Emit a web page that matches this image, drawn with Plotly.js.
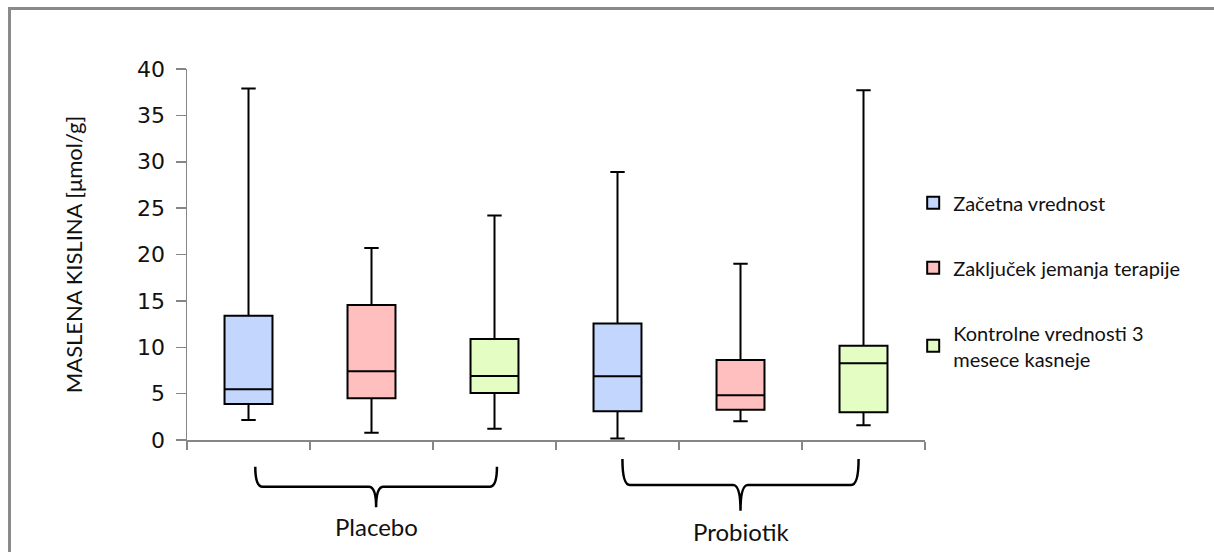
<!DOCTYPE html>
<html>
<head>
<meta charset="utf-8">
<script src="https://cdn.plot.ly/plotly-3.0.1.min.js"></script>
<style>
  html, body { margin: 0; padding: 0; background: #fff; }
  #wrap { position: relative; width: 1214px; height: 552px; overflow: hidden; }
  #chart { width: 1214px; height: 552px; }
  #frame {
    position: absolute; left: 8px; top: 7px; width: 1300px; height: 700px;
    border-left: 3px solid #8a8a8a; border-top: 3px solid #8a8a8a;
    pointer-events: none;
  }
</style>
</head>
<body>
<div id="wrap">
  <div id="chart"></div>
  <div id="frame"></div>
</div>
<script>
// Groups along the x axis and the three measurement points inside each group
const groups = ['Placebo', 'Probiotik'];
const seriesNames = [
  'Začetna vrednost',
  'Zaključek jemanja terapije',
  'Kontrolne vrednosti 3<br>mesece kasneje'
];
const seriesColors = ['#c2d6fe', '#ffbfbf', '#e3fdc3'];

// Box statistics per series, in group order [Placebo, Probiotik]
const startMin    = [2.16, 0.15];
const startQ1     = [3.88, 3.10];
const startMedian = [5.47, 6.87];
const startQ3     = [13.40, 12.55];
const startMax    = [37.9, 28.9];

const endMin    = [0.79, 2.01];
const endQ1     = [4.50, 3.27];
const endMedian = [7.41, 4.82];
const endQ3     = [14.56, 8.63];
const endMax    = [20.7, 19.0];

const ctrlMin    = [1.20, 1.58];
const ctrlQ1     = [5.07, 2.99];
const ctrlMedian = [6.90, 8.27];
const ctrlQ3     = [10.90, 10.17];
const ctrlMax    = [24.2, 37.7];

const yTicks = [0, 5, 10, 15, 20, 25, 30, 35, 40];

const stats = [
  [startMin, startQ1, startMedian, startQ3, startMax],
  [endMin, endQ1, endMedian, endQ3, endMax],
  [ctrlMin, ctrlQ1, ctrlMedian, ctrlQ3, ctrlMax]
];

const perGroup = seriesNames.length;
const slotCount = groups.length * perGroup;

const traces = seriesNames.map((name, s) => {
  const [mn, q1, med, q3, mx] = stats[s];
  return {
    type: 'box',
    orientation: 'v',
    name: name,
    legendgroup: 'g' + s,
    x: groups.map((g, gi) => gi * perGroup + s),
    lowerfence: mn,
    q1: q1,
    median: med,
    q3: q3,
    upperfence: mx,
    width: 0.39,
    whiskerwidth: 0.3,
    fillcolor: seriesColors[s],
    line: { color: '#000000', width: 2 },
    boxpoints: false,
    hoverinfo: 'y'
  };
});

// Curly braces under each group, spanning its three slots
function bracePath(x0, x1, yTop, yMid, yTip) {
  const xc = (x0 + x1) / 2;
  const d = 0.06;
  return 'M' + x0 + ',' + yTop +
    ' Q' + x0 + ',' + yMid + ' ' + (x0 + d) + ',' + yMid +
    ' L' + (xc - d) + ',' + yMid +
    ' Q' + xc + ',' + yMid + ' ' + xc + ',' + yTip +
    ' Q' + xc + ',' + yMid + ' ' + (xc + d) + ',' + yMid +
    ' L' + (x1 - d) + ',' + yMid +
    ' Q' + x1 + ',' + yMid + ' ' + x1 + ',' + yTop;
}

const braceGeom = [
  { x0: 0.055, x1: 2.02, yTop: -0.072, yMid: -0.126, yTip: -0.181, labelY: -0.234 },
  { x0: 3.04, x1: 4.96, yTop: -0.051, yMid: -0.121, yTip: -0.191, labelY: -0.247 }
];

const shapes = braceGeom.map(b => ({
  type: 'path',
  xref: 'x', yref: 'paper',
  path: bracePath(b.x0, b.x1, b.yTop, b.yMid, b.yTip),
  line: { color: '#000', width: 2.5 }
}));

const annotations = groups.map((g, gi) => ({
  text: g,
  xref: 'x', yref: 'paper',
  x: (braceGeom[gi].x0 + braceGeom[gi].x1) / 2,
  y: braceGeom[gi].labelY,
  xanchor: 'center', yanchor: 'middle',
  showarrow: false,
  font: { family: 'Lato, sans-serif', size: 24, color: '#111' }
}));

const slotEdges = [];
for (let i = 0; i <= slotCount; i++) slotEdges.push(i - 0.5);

const layout = {
  width: 1214,
  height: 552,
  margin: { l: 187, r: 289, t: 69, b: 112 },
  paper_bgcolor: '#ffffff',
  plot_bgcolor: '#ffffff',
  showlegend: true,
  boxmode: 'overlay',
  xaxis: {
    type: 'linear',
    range: [-0.5, slotCount - 0.5],
    tickmode: 'array',
    tickvals: slotEdges,
    showticklabels: false,
    ticks: 'outside',
    ticklen: 8,
    tickwidth: 1.5,
    tickcolor: '#868686',
    showline: true,
    linecolor: '#868686',
    linewidth: 1.5,
    showgrid: false,
    zeroline: false,
    fixedrange: true
  },
  yaxis: {
    range: [0, 40],
    tickmode: 'array',
    tickvals: yTicks,
    ticktext: yTicks.map(String),
    ticks: 'outside',
    ticklen: 10,
    tickwidth: 1.5,
    tickcolor: '#868686',
    ticklabelstandoff: 6,
    tickfont: { family: 'DejaVu Sans, sans-serif', size: 22, color: '#111' },
    showline: true,
    linecolor: '#868686',
    linewidth: 1.5,
    showgrid: false,
    zeroline: false,
    fixedrange: true,
    title: {
      text: 'MASLENA KISLINA [μmol/g]',
      standoff: 48,
      font: { family: 'Lato, sans-serif', size: 22, color: '#111' }
    }
  },
  legend: {
    x: 0.984, xanchor: 'left',
    y: 0.692, yanchor: 'top',
    bgcolor: 'rgba(0,0,0,0)',
    borderwidth: 0,
    tracegroupgap: 36,
    itemwidth: 30,
    font: { family: 'Lato, sans-serif', size: 20, color: '#111' }
  },
  shapes: shapes,
  annotations: annotations
};

Plotly.newPlot('chart', traces, layout, { displayModeBar: false, staticPlot: true });
</script>
</body>
</html>
